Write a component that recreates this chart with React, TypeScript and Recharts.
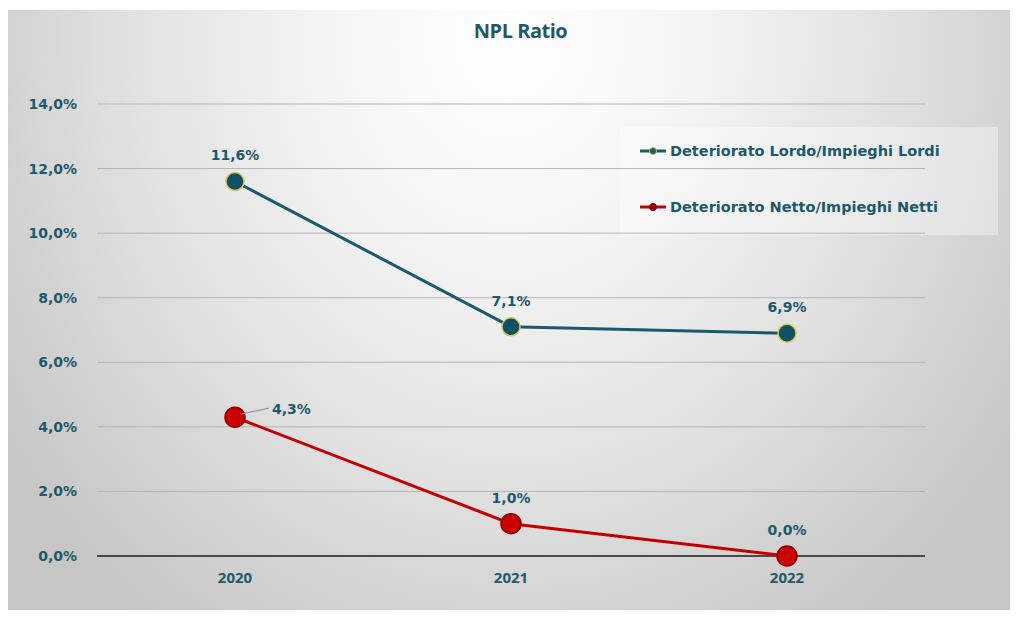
import React from "react"
import { LineChart, Line, XAxis, YAxis, CartesianGrid, LabelList, ReferenceLine } from "recharts"

const years = ["2020", "2021", "2022"]
const lordo = [11.6, 7.1, 6.9]
const netto = [4.3, 1.0, 0.0]
const yTicks = [0, 2, 4, 6, 8, 10, 12, 14]

const TEAL = "#1b5a6b"
const RED = "#c40000"

const data = years.map((year, i) => ({ year, lordo: lordo[i], netto: netto[i] }))

const fmt = (v: number) => v.toFixed(1).replace(".", ",") + "%"

const labelFont = "'DejaVu Sans', sans-serif"

function PointLabel(props: any) {
  const { x, y, value, index, series } = props
  if (series === "netto" && index === 0) {
    // leader-line label to the right
    return (
      <g>
        <line x1={x + 6} y1={y - 3} x2={x + 34} y2={y - 9} stroke="#8a8a8a" strokeWidth={1} />
        <text x={x + 37} y={y - 3} fill={TEAL} fontSize={14} fontWeight={700} fontFamily={labelFont}>
          {fmt(value)}
        </text>
      </g>
    )
  }
  return (
    <text x={x} y={y - 21} textAnchor="middle" fill={TEAL} fontSize={14} fontWeight={700} fontFamily={labelFont}>
      {fmt(value)}
    </text>
  )
}

function LegendBox() {
  const items = [
    { label: "Deteriorato Lordo/Impieghi Lordi", color: TEAL, dot: "#1b5a6b", ring: "#c9bd3a" },
    { label: "Deteriorato Netto/Impieghi Netti", color: RED, dot: "#a00000", ring: "#7a0000" },
  ]
  return (
    <div
      style={{
        position: "absolute",
        left: 620,
        top: 127,
        width: 378,
        height: 108,
        background: "rgba(255,255,255,0.35)",
      }}
    >
      {items.map((it, i) => (
        <div
          key={it.label}
          style={{ position: "absolute", left: 19, top: 16 + i * 56, display: "flex", alignItems: "center" }}
        >
          <svg width={28} height={12}>
            <line x1={1} y1={6} x2={27} y2={6} stroke={it.color} strokeWidth={3} />
            <circle cx={14} cy={6} r={3.5} fill={it.dot} stroke={it.ring} strokeWidth={1} />
          </svg>
          <span
            style={{
              marginLeft: 3,
              color: TEAL,
              fontFamily: labelFont,
              fontSize: 14.5,
              fontWeight: 600,
              whiteSpace: "nowrap",
            }}
          >
            {it.label}
          </span>
        </div>
      ))}
    </div>
  )
}

export default function App() {
  return (
    <div style={{ position: "absolute", left: 0, top: 0, width: 1017, height: 621, background: "#ffffff" }}>
      <div
        style={{
          position: "absolute",
          left: 8,
          top: 10,
          width: 1002,
          height: 600,
          background:
            "radial-gradient(ellipse 62% 120% at 50% 5%, #ffffff 0%, #f4f4f4 30%, #e2e2e2 60%, #d0d0d0 85%, #c6c6c6 100%)",
        }}
      />
      <div
        style={{
          position: "absolute",
          left: 0,
          width: 1017,
          top: 17,
          textAlign: "center",
          paddingLeft: 24,
          boxSizing: "border-box",
          color: TEAL,
          fontFamily: "'Open Sans', sans-serif",
          fontWeight: 700,
          fontSize: 20,
          letterSpacing: -0.5,
        }}
      >
        NPL Ratio
      </div>
      <LegendBox />
      <div style={{ position: "absolute", left: 0, top: 0 }}>
        <LineChart width={1017} height={621} data={data} margin={{ top: 104, right: 92, bottom: 25, left: 0 }}>
          <CartesianGrid vertical={false} stroke="#b5b5b5" strokeWidth={1} />
          <XAxis
            dataKey="year"
            axisLine={false}
            tickLine={false}
            height={40}
            tickMargin={10}
            padding={{ left: 138, right: 138 }}
            tick={{ fill: TEAL, fontSize: 15, fontWeight: 700, fontFamily: "'Open Sans', sans-serif" }}
          />
          <YAxis
            domain={[0, 14]}
            ticks={yTicks}
            width={97}
            axisLine={false}
            tickLine={false}
            tickMargin={14}
            tickFormatter={fmt}
            tick={{ fill: TEAL, fontSize: 14, fontWeight: 700, fontFamily: labelFont }}
          />
          <ReferenceLine y={0} stroke="#4a4a4a" strokeWidth={2} />
          <Line
            dataKey="lordo"
            stroke={TEAL}
            strokeWidth={3}
            isAnimationActive={false}
            dot={{ r: 9, fill: "#0f5064", stroke: "#d2c84a", strokeWidth: 1.5 }}
          >
            <LabelList dataKey="lordo" content={(p: any) => <PointLabel {...p} series="lordo" />} />
          </Line>
          <Line
            dataKey="netto"
            stroke={RED}
            strokeWidth={3}
            isAnimationActive={false}
            dot={{ r: 10, fill: "#cc0000", stroke: "#8a0000", strokeWidth: 1.5 }}
          >
            <LabelList dataKey="netto" content={(p: any) => <PointLabel {...p} series="netto" />} />
          </Line>
        </LineChart>
      </div>
    </div>
  )
}
